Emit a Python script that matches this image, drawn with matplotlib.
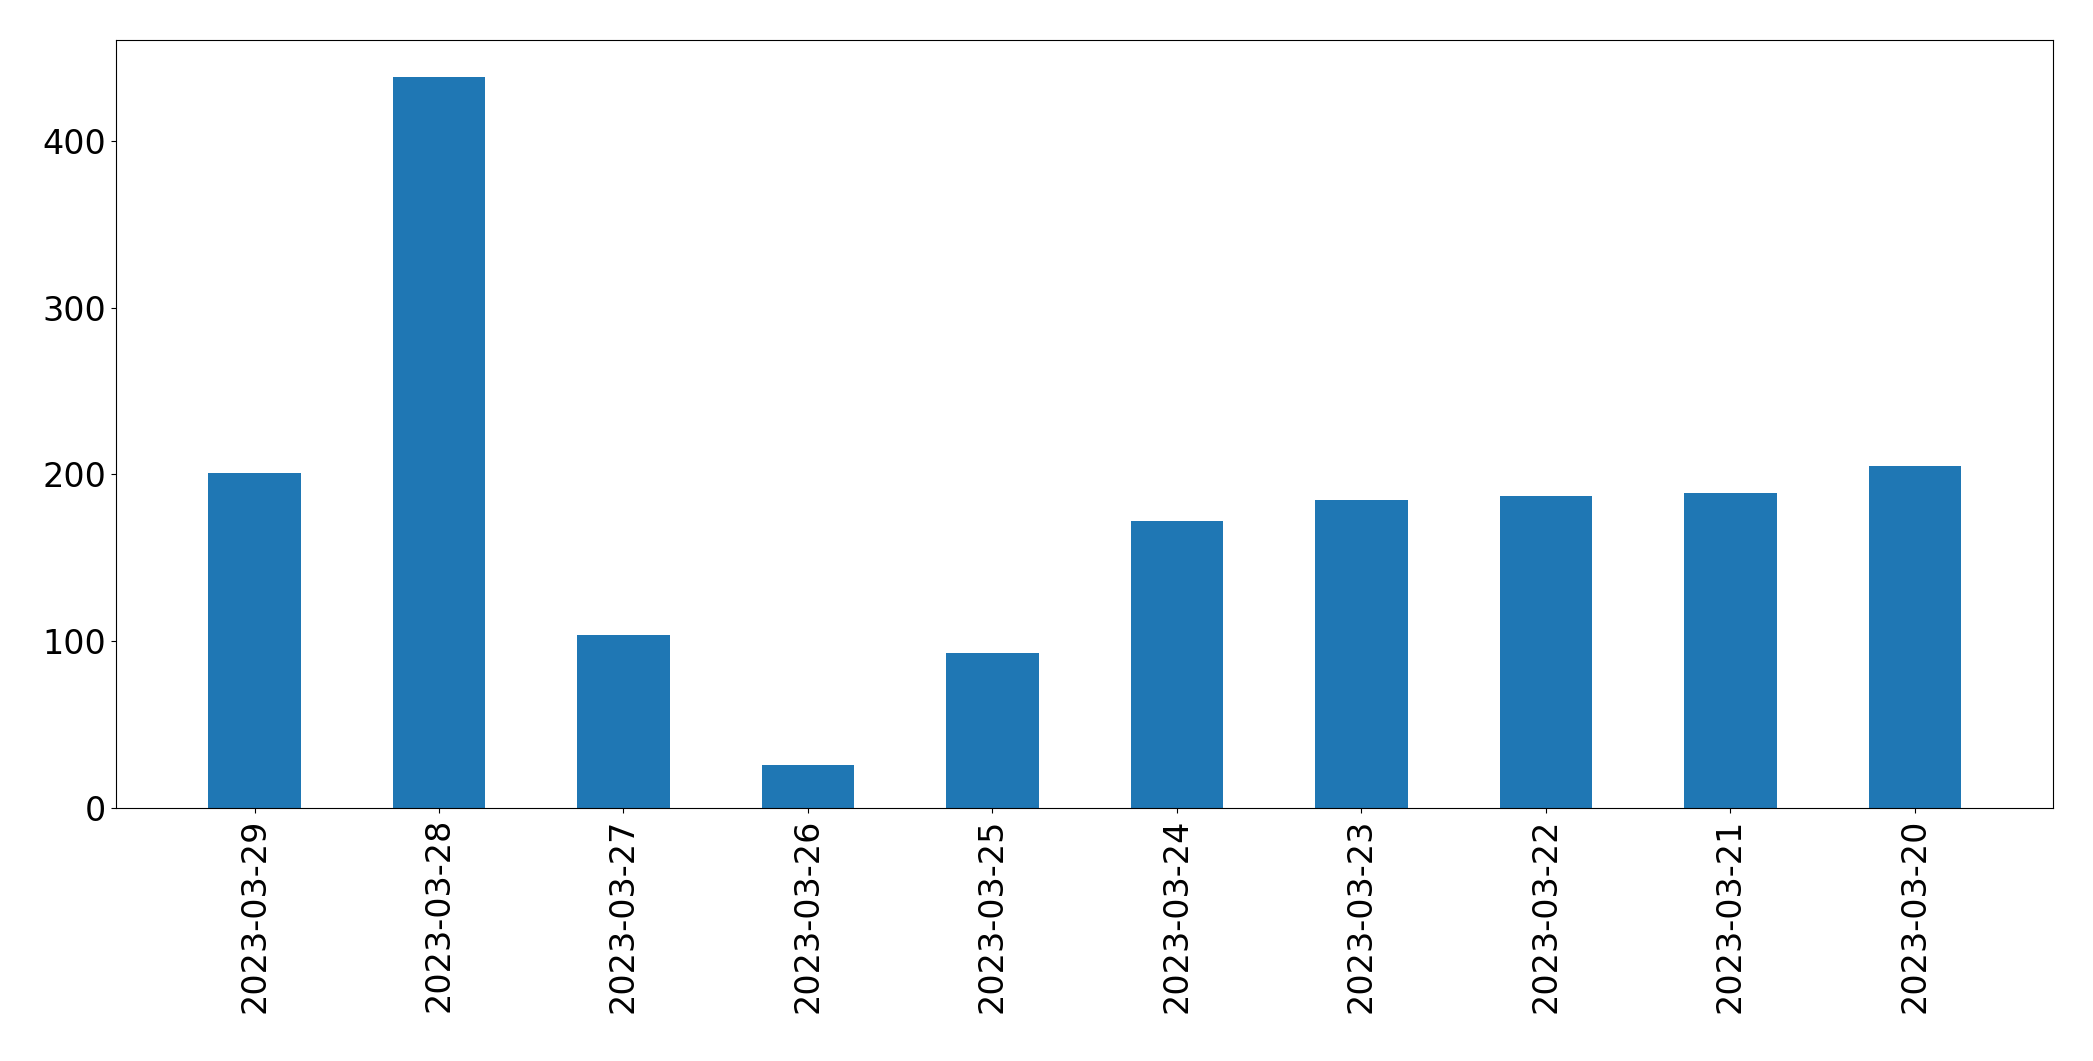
import matplotlib
matplotlib.use("Agg")
import matplotlib.pyplot as plt

dates = ["2023-03-29","2023-03-28","2023-03-27","2023-03-26","2023-03-25",
         "2023-03-24","2023-03-23","2023-03-22","2023-03-21","2023-03-20"]
values = [201, 438, 104, 26, 93, 172, 185, 187, 189, 205]

fig = plt.figure(figsize=(20.93, 10.61), dpi=100)
ax = fig.add_axes([0.0555, 0.238, 0.9255, 0.724])
ax.bar(range(len(dates)), values, width=0.5, color="#1f77b4")
ax.set_xticks(range(len(dates)))
ax.set_xticklabels(dates, rotation=90)
ax.set_xlim(-0.75, len(dates) - 0.25)
ax.set_ylim(0, 460)
ax.set_yticks([0, 100, 200, 300, 400])
ax.tick_params(labelsize=24)
fig.savefig("out.png", dpi=100)
